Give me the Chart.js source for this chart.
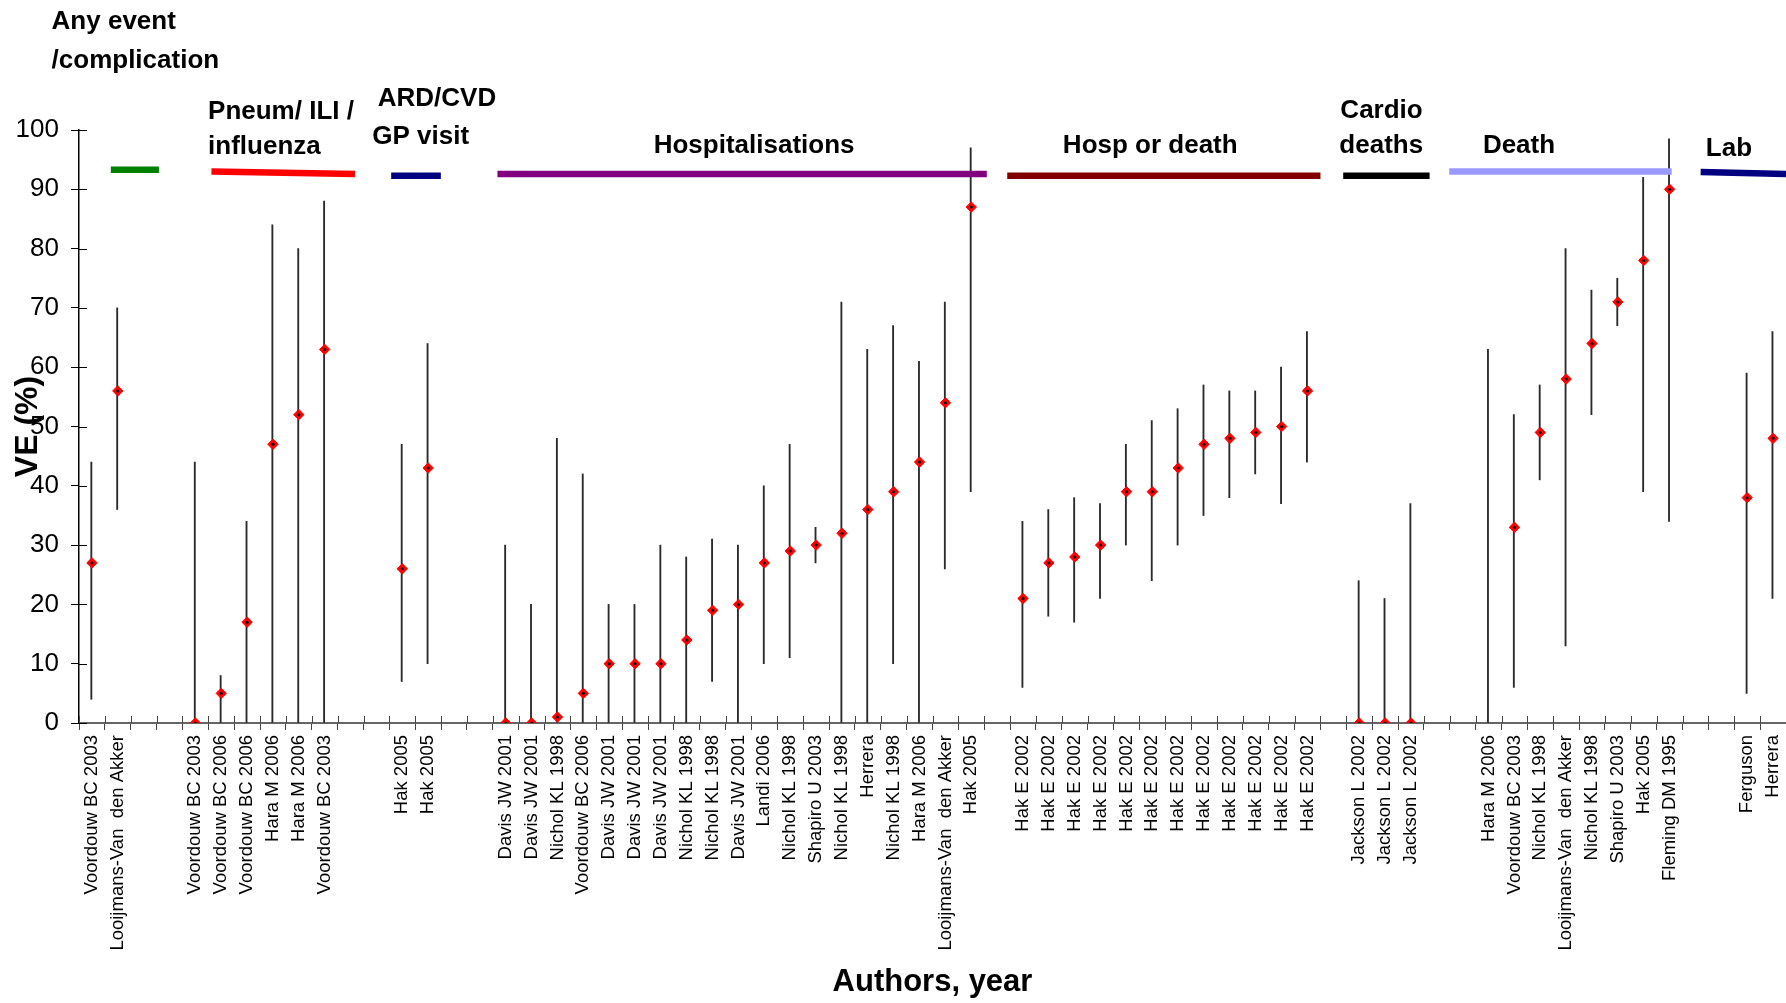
<!DOCTYPE html>
<html>
<head>
<meta charset="utf-8">
<script src="https://cdn.jsdelivr.net/npm/chart.js@4.4.1/dist/chart.umd.min.js"></script>
<style>
  html, body { margin: 0; padding: 0; background: #ffffff; }
  canvas { display: block; }
</style>
</head>
<body>
<canvas id="chart" width="1786" height="1003"></canvas>
<script>
// Study labels along the x axis (empty strings separate outcome groups)
const studies = [
  "Voordouw BC 2003", "Looijmans-Van  den Akker", "", "",
  "Voordouw BC 2003", "Voordouw BC 2006", "Voordouw BC 2006", "Hara M 2006", "Hara M 2006", "Voordouw BC 2003", "", "",
  "Hak 2005", "Hak 2005", "", "",
  "Davis JW 2001", "Davis JW 2001", "Nichol KL 1998", "Voordouw BC 2006", "Davis JW 2001", "Davis JW 2001",
  "Davis JW 2001", "Nichol KL 1998", "Nichol KL 1998", "Davis JW 2001", "Landi 2006", "Nichol KL 1998",
  "Shapiro U 2003", "Nichol KL 1998", "Herrera", "Nichol KL 1998", "Hara M 2006", "Looijmans-Van  den Akker",
  "Hak 2005", "",
  "Hak E 2002", "Hak E 2002", "Hak E 2002", "Hak E 2002", "Hak E 2002", "Hak E 2002",
  "Hak E 2002", "Hak E 2002", "Hak E 2002", "Hak E 2002", "Hak E 2002", "Hak E 2002", "",
  "Jackson L 2002", "Jackson L 2002", "Jackson L 2002", "", "",
  "Hara M 2006", "Voordouw BC 2003", "Nichol KL 1998", "Looijmans-Van  den Akker", "Nichol KL 1998",
  "Shapiro U 2003", "Hak 2005", "Fleming DM 1995", "", "",
  "Ferguson", "Herrera"
];

// Vaccine effectiveness point estimates (%)
const ve = [
  27, 56, null, null,
  0, 5, 17, 47, 52, 63, null, null,
  26, 43, null, null,
  0, 0, 1, 5, 10, 10, 10, 14, 19, 20, 27, 29, 30, 32, 36, 39, 44, 54, 87, null,
  21, 27, 28, 30, 39, 39, 43, 47, 48, 49, 50, 56, null,
  0, 0, 0, null, null,
  null, 33, 49, 58, 64, 71, 78, 90, null, null,
  38, 48
];

// Lower confidence limits (%)
const ciLow = [
  4, 36, null, null,
  0, 0, 0, 0, 0, 0, null, null,
  7, 10, null, null,
  0, 0, 0, 0, 0, 0, 0, 0, 7, 0, 10, 11, 27, 0, 0, 10, 0, 26, 39, null,
  6, 18, 17, 21, 30, 24, 30, 35, 38, 42, 37, 44, null,
  0, 0, 0, null, null,
  0, 6, 41, 13, 52, 67, 39, 34, null, null,
  5, 21
];

// Upper confidence limits (%)
const ciHigh = [
  44, 70, null, null,
  44, 8, 34, 84, 80, 88, null, null,
  47, 64, null, null,
  30, 20, 48, 42, 20, 20, 30, 28, 31, 30, 40, 47, 33, 71, 63, 67, 61, 71, 97, null,
  34, 36, 38, 37, 47, 51, 53, 57, 56, 56, 60, 66, null,
  24, 21, 37, null, null,
  63, 52, 57, 80, 73, 75, 92, 98.5, null, null,
  59, 66
];

// Outcome groups: title lines, span along the study axis, and bar level
const groupTitles = [
  ["Any event", "/complication"],
  ["Pneum/ ILI /", "influenza"],
  ["ARD/CVD", "GP visit"],
  ["Hospitalisations"],
  ["Hosp or death"],
  ["Cardio", "deaths"],
  ["Death"],
  ["Lab"]
];
const groupFrom = [0.73, 4.62, 11.57, 15.68, 35.39, 48.38, 52.48, 62.2];
const groupTo = [2.59, 10.17, 13.49, 34.6, 47.5, 51.72, 61.08, 65.5];
const groupLevelFrom = [93.3, 93.0, 92.3, 92.6, 92.3, 92.3, 93.0, 92.9];
const groupLevelTo = [93.3, 92.6, 92.3, 92.6, 92.3, 92.3, 93.0, 92.6];

// Styling and title placement (study-axis units, VE units)
const groupColors = ["#008000", "#ff0000", "#000080", "#800080", "#800000", "#000000", "#9999ff", "#000080"];
const titlePlacement = [
  [[-1.56, 118.2], [-1.56, 111.7]],
  [[4.49, 103.0], [4.49, 97.2]],
  [[11.05, 105.3], [10.84, 98.9]],
  [[21.72, 97.4]],
  [[37.54, 97.4]],
  [[48.27, 103.2], [48.23, 97.4]],
  [[53.78, 97.4]],
  [[62.4, 96.8]]
];

const FONT = '"Liberation Sans", Arial, Helvetica, sans-serif';

const ciPairs = ciLow.map((lo, i) => (lo === null || ciHigh[i] === null) ? null : [lo, ciHigh[i]]);

const groupDatasets = groupTitles.map((t, g) => ({
  type: 'line',
  xAxisID: 'xu',
  data: [{ x: groupFrom[g], y: groupLevelFrom[g] }, { x: groupTo[g], y: groupLevelTo[g] }],
  borderColor: groupColors[g],
  borderWidth: 6.5,
  borderCapStyle: 'butt',
  pointRadius: 0,
  order: 2
}));

// Group headings above the bars
const groupTitlePlugin = {
  id: 'groupTitles',
  afterDraw(chart) {
    const { ctx, scales } = chart;
    const xu = scales.xu, y = scales.y;
    ctx.save();
    ctx.font = 'bold 26px ' + FONT;
    ctx.fillStyle = '#000';
    ctx.textAlign = 'left';
    ctx.textBaseline = 'middle';
    groupTitles.forEach((lines, g) => {
      lines.forEach((text, k) => {
        const p = titlePlacement[g][k];
        ctx.fillText(text, xu.getPixelForValue(p[0]), y.getPixelForValue(p[1]));
      });
    });
    ctx.restore();
  }
};

// Tick marks that cross into the plot area
const innerTickPlugin = {
  id: 'innerTicks',
  afterDraw(chart) {
    const { ctx, chartArea, scales } = chart;
    const x = scales.x, y = scales.y;
    ctx.save();
    ctx.lineWidth = 1;
    ctx.strokeStyle = '#000';
    y.ticks.forEach((t, i) => {
      const py = Math.round(y.getPixelForTick(i)) + 0.5;
      ctx.beginPath();
      ctx.moveTo(chartArea.left, py);
      ctx.lineTo(chartArea.left + 8, py);
      ctx.stroke();
    });
    ctx.strokeStyle = '#444';
    for (let i = 0; i <= studies.length; i++) {
      const px = Math.round(x.getPixelForValue(i - 0.5)) + 0.5;
      ctx.beginPath();
      ctx.moveTo(px, chartArea.bottom);
      ctx.lineTo(px, chartArea.bottom - 7);
      ctx.stroke();
    }
    ctx.restore();
  }
};

new Chart(document.getElementById('chart'), {
  data: {
    labels: studies,
    datasets: [
      {
        type: 'bar',
        data: ciPairs,
        backgroundColor: '#2a2a2a',
        barThickness: 1.2,
        order: 3
      },
      {
        type: 'line',
        data: ve,
        showLine: false,
        pointStyle: 'rectRot',
        pointRadius: 5.2,
        pointBackgroundColor: '#ff0000',
        pointBorderColor: '#ff0000',
        pointBorderWidth: 1,
        order: 1
      },
      {
        type: 'line',
        data: ve,
        showLine: false,
        pointStyle: 'circle',
        pointRadius: 1.5,
        pointBackgroundColor: '#000',
        pointBorderWidth: 0,
        order: 0
      },
      ...groupDatasets
    ]
  },
  options: {
    responsive: false,
    animation: false,
    events: [],
    devicePixelRatio: 1,
    layout: { autoPadding: false, padding: { top: 130, left: 0, right: 0, bottom: 0 } },
    plugins: { legend: { display: false }, tooltip: { enabled: false } },
    scales: {
      x: {
        type: 'category',
        offset: true,
        grid: { offset: true, drawOnChartArea: false, tickLength: 7, color: '#444', lineWidth: 1 },
        border: { color: '#666', width: 2 },
        ticks: {
          autoSkip: false,
          minRotation: 90,
          maxRotation: 90,
          padding: 5,
          color: '#000',
          font: { family: FONT, size: 18.5 }
        },
        title: {
          display: true,
          text: 'Authors, year',
          color: '#000',
          font: { family: FONT, size: 31, weight: 'bold' },
          padding: { top: 0, bottom: 2 }
        },
        afterFit(s) { s.height = 280; s.paddingLeft = 0; s.paddingRight = 0; }
      },
      xu: {
        type: 'linear',
        display: false,
        min: -0.5,
        max: 65.5
      },
      y: {
        type: 'linear',
        min: 0,
        max: 100,
        grid: { drawOnChartArea: false, tickLength: 8, color: '#000' },
        border: { color: '#000', width: 1.5 },
        ticks: {
          stepSize: 10,
          padding: 12,
          color: '#000',
          font: { family: FONT, size: 26 }
        },
        title: {
          display: true,
          text: 'VE (%)',
          color: '#000',
          font: { family: FONT, size: 32, weight: 'bold' },
          padding: { top: 9, bottom: 0 }
        },
        afterFit(s) { s.width = 79; s.paddingTop = 0; s.paddingBottom = 0; }
      }
    }
  },
  plugins: [groupTitlePlugin, innerTickPlugin]
});
</script>
</body>
</html>
